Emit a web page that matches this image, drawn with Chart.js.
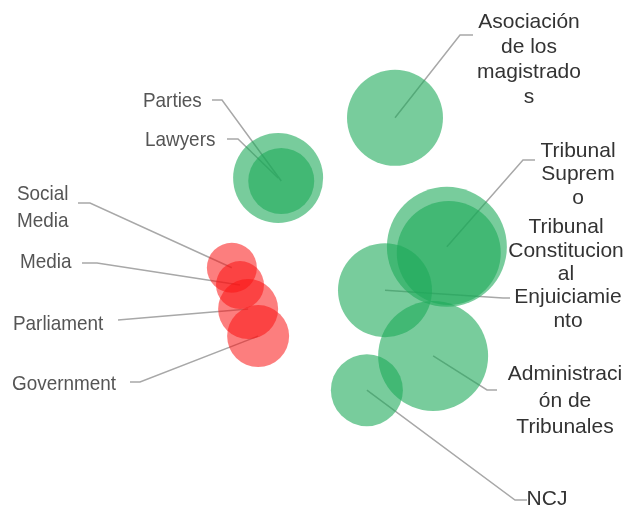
<!DOCTYPE html>
<html>
<head>
<meta charset="utf-8">
<script src="https://cdn.jsdelivr.net/npm/chart.js@4"></script>
<style>
  html, body { margin: 0; background: #fff; }
</style>
</head>
<body>
<canvas id="bubbleChart" width="625" height="510"></canvas>
<script>
// Bubble data (no visible axes, 0-100 units on both scales)
const names = ['Asociación', 'Lawyers', 'Parties', 'Social Media', 'Media', 'Parliament', 'Government',
  'Tribunal Supremo', 'Tribunal Constitucional', 'Enjuiciamiento', 'Administración', 'NCJ'];
const xValues = [63.2, 44.5, 45.0, 37.1, 38.4, 39.7, 41.3, 71.5, 71.8, 61.6, 69.3, 58.7];
const yValues = [76.9, 65.1, 64.5, 47.5, 44.1, 39.4, 34.1, 51.6, 50.4, 43.1, 30.2, 23.5];
const sizes = [48, 45, 33, 25, 24, 30, 31, 60, 52, 47, 55, 36];
const groups = ['green', 'green', 'green', 'red', 'red', 'red', 'red', 'green', 'green', 'green', 'green', 'green'];

// Label text, wrapped as in the original
const labelLines = [
  ['Asociación', 'de los', 'magistrado', 's'],
  ['Lawyers'],
  ['Parties'],
  ['Social', 'Media'],
  ['Media'],
  ['Parliament'],
  ['Government'],
  ['Tribunal', 'Suprem', 'o'],
  ['Tribunal', 'Constitucion', 'al'],
  ['Enjuiciamie', 'nto'],
  ['Administraci', 'ón de', 'Tribunales'],
  ['NCJ']
];

// Label placement: text anchor, baselines, leader-line elbow points (pixels)
const labelLayout = [
  { side: 'right', x: 529, base: [28, 53, 78, 103], path: [[460, 35], [473, 35]] },
  { side: 'left', x: 145, base: [146], path: [[238, 139], [227, 139]] },
  { side: 'left', x: 143, base: [107], path: [[222, 100], [212, 100]] },
  { side: 'left', x: 17, base: [200, 227], path: [[90, 203], [78, 203]] },
  { side: 'left', x: 20, base: [268], path: [[97, 263], [82, 263]] },
  { side: 'left', x: 13, base: [330], path: [[118, 320]] },
  { side: 'left', x: 12, base: [390], path: [[140, 382], [130, 382]] },
  { side: 'right', x: 578, base: [157, 180, 204], path: [[523, 160], [535, 160]] },
  { side: 'right', x: 566, base: [233, 257, 280], path: [] },
  { side: 'right', x: 568, base: [303, 327], path: [[503, 298], [510, 298]] },
  { side: 'right', x: 565, base: [380, 407, 433], path: [[487, 390], [497, 390]] },
  { side: 'right', x: 547, base: [505], path: [[515, 500], [527, 500]] }
];

const fills = {
  green: 'rgba(30, 170, 90, 0.6)',
  red: 'rgba(250, 20, 20, 0.55)'
};

const leaderLines = {
  id: 'leaderLines',
  beforeDatasetsDraw(chart) {
    const ctx = chart.ctx;
    const xs = chart.scales.x, ys = chart.scales.y;
    ctx.save();
    ctx.strokeStyle = '#a8a8a8';
    ctx.lineWidth = 1.5;
    labelLayout.forEach((lay, i) => {
      if (!lay.path.length) return;
      ctx.beginPath();
      ctx.moveTo(xs.getPixelForValue(xValues[i]), ys.getPixelForValue(yValues[i]));
      lay.path.forEach(p => ctx.lineTo(p[0], p[1]));
      ctx.stroke();
    });
    ctx.restore();
  },
  afterDatasetsDraw(chart) {
    const ctx = chart.ctx;
    ctx.save();
    ctx.textBaseline = 'alphabetic';
    labelLayout.forEach((lay, i) => {
      labelLines[i].forEach((line, k) => {
        if (lay.side === 'right') {
          ctx.font = '21px "Liberation Sans", Arial, sans-serif';
          ctx.fillStyle = '#333';
          ctx.textAlign = 'center';
          ctx.fillText(line, lay.x, lay.base[k]);
        } else {
          // left labels look condensed in the original
          ctx.save();
          ctx.font = '21px "Liberation Sans", Arial, sans-serif';
          ctx.fillStyle = '#555';
          ctx.textAlign = 'left';
          ctx.translate(lay.x, lay.base[k]);
          ctx.scale(0.9, 1);
          ctx.fillText(line, 0, 0);
          ctx.restore();
        }
      });
    });
    ctx.restore();
  }
};

new Chart(document.getElementById('bubbleChart'), {
  type: 'bubble',
  data: {
    datasets: [{
      data: names.map((n, i) => ({ x: xValues[i], y: yValues[i], r: sizes[i] })),
      backgroundColor: groups.map(g => fills[g]),
      borderWidth: 0,
      hoverRadius: 0
    }]
  },
  options: {
    responsive: false,
    animation: false,
    events: [],
    clip: false,
    layout: { padding: 0, autoPadding: false },
    plugins: { legend: { display: false }, tooltip: { enabled: false } },
    scales: {
      x: { display: false, min: 0, max: 100 },
      y: { display: false, min: 0, max: 100 }
    }
  },
  plugins: [leaderLines]
});
</script>
</body>
</html>
